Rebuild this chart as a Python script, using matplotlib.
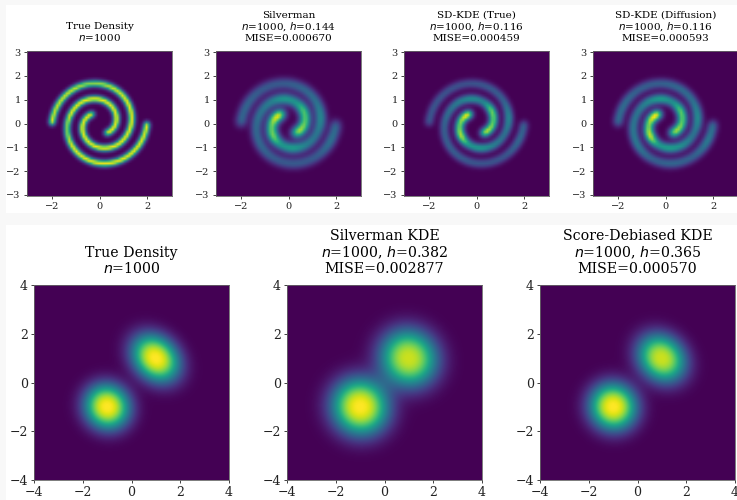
import numpy as np
import matplotlib
matplotlib.use("Agg")
import matplotlib.pyplot as plt
from matplotlib.patches import Rectangle

W, H = 737, 500
plt.rcParams['font.family'] = 'DejaVu Serif'
plt.rcParams['mathtext.fontset'] = 'dejavusans'

# ridge of the two spiral arms, read from inner end to outer end
ARM_A_X = [-0.30, -0.58, -0.72, -0.64, -0.32, 0.18, 0.75, 1.19, 1.36, 1.14, 0.55, -0.30, -1.17, -1.81, -2.00]
ARM_A_Y = [0.40, 0.21, -0.13, -0.54, -0.89, -1.04, -0.90, -0.43, 0.24, 0.96, 1.50, 1.68, 1.39, 0.66, 0.00]
ARM_B_X = [0.30, 0.58, 0.72, 0.64, 0.32, -0.18, -0.75, -1.19, -1.36, -1.14, -0.55, 0.30, 1.17, 1.81, 2.00]
ARM_B_Y = [-0.40, -0.21, 0.13, 0.54, 0.89, 1.04, 0.90, 0.43, -0.24, -0.96, -1.50, -1.68, -1.39, -0.66, 0.00]

# ridge brightness per panel, per control point
TRUE_A = [.92, .97, .97, .97, .97, .97, .97, .97, .97, .97, .92, .80, .92, .92, .92]
TRUE_B = [.92, .97, .97, .97, .97, .97, .97, .97, .78, .97, .97, .97, .97, .97, .92]
SILV_A = [.90, .95, .68, .85, .48, .58, .42, .38, .48, .36, .32, .28, .28, .33, .30]
SILV_B = [.80, .85, .68, .75, .48, .55, .42, .38, .33, .33, .28, .28, .28, .38, .30]
SDT_A = [1.0, .88, .72, .95, .50, .55, .42, .36, .48, .30, .28, .25, .25, .27, .25]
SDT_B = [.85, .85, .70, .82, .42, .50, .42, .36, .30, .30, .28, .26, .26, .34, .28]
SDD_A = [1.0, .95, .72, 1.0, .50, .58, .48, .36, .50, .36, .34, .30, .30, .36, .32]
SDD_B = [.80, .85, .70, .78, .45, .58, .46, .38, .40, .40, .30, .33, .30, .42, .32]

# spiral panels: title, ridge sigma
TOP_TITLES = ["True Density\n$n$=1000",
              "Silverman\n$n$=1000, $h$=0.144\nMISE=0.000670",
              "SD-KDE (True)\n$n$=1000, $h$=0.116\nMISE=0.000459",
              "SD-KDE (Diffusion)\n$n$=1000, $h$=0.116\nMISE=0.000593"]
TOP_SIGMA = [0.10, 0.17, 0.135, 0.15]
TOP_LEFT = [27, 216, 404, 593]
TOP_AMPS = [(TRUE_A, TRUE_B), (SILV_A, SILV_B), (SDT_A, SDT_B), (SDD_A, SDD_B)]

# two-blob panels: centre, scale along/against the tilt, peak
BOT_TITLES = ["True Density\n$n$=1000",
              "Silverman KDE\n$n$=1000, $h$=0.382\nMISE=0.002877",
              "Score-Debiased KDE\n$n$=1000, $h$=0.365\nMISE=0.000570"]
BOT_LEFT = [34, 287, 540]
CENTRES_X = [-1.0, 1.0]
CENTRES_Y = [-1.0, 1.0]
BLOB_SCALE_LONG = [[0.95, 1.08], [1.18, 1.20], [0.98, 1.06]]
BLOB_SCALE_SHORT = [[0.90, 0.86], [1.14, 1.14], [0.95, 0.90]]
BLOB_PEAK = [[1.0, 1.0], [1.0, 0.92], [1.0, 0.92]]


def spiral(amps, sigma, n=60, lim=3):
    t = np.linspace(-lim, lim, n)
    gx, gy = np.meshgrid(t, t)
    z = np.zeros_like(gx)
    for px, py, am in zip((ARM_A_X, ARM_B_X), (ARM_A_Y, ARM_B_Y), amps):
        px, py = np.array(px), np.array(py)
        ang = np.unwrap(np.arctan2(py, px))
        rad = np.hypot(px, py)
        fine = np.linspace(ang[0], ang[-1], 600)
        fr = np.interp(fine, ang, rad)
        fa = np.interp(fine, ang, am)
        fx, fy = fr * np.cos(fine), fr * np.sin(fine)
        ds = np.r_[np.hypot(np.diff(fx), np.diff(fy)), 0.0]
        ds[0] += 0.7 * sigma
        ds[-2] += 0.7 * sigma
        for x, y, a, d in zip(fx, fy, fa, ds):
            z += a * np.exp(-((gx - x) ** 2 + (gy - y) ** 2) / (2 * sigma ** 2)) * d / (sigma * np.sqrt(2 * np.pi))
    return z


def blobs(i, n=200, lim=4):
    t = np.linspace(-lim, lim, n)
    gx, gy = np.meshgrid(t, t)
    z = np.zeros_like(gx)
    for k in range(2):
        u = ((gx - CENTRES_X[k]) - (gy - CENTRES_Y[k])) / np.sqrt(2)
        v = ((gx - CENTRES_X[k]) + (gy - CENTRES_Y[k])) / np.sqrt(2)
        rho = np.sqrt((u / BLOB_SCALE_LONG[i][k]) ** 2 + (v / BLOB_SCALE_SHORT[i][k]) ** 2)
        z += BLOB_PEAK[i][k] * np.exp(-rho ** 2.5)
    return z


def add_axes(fig, left, top, w, h):
    return fig.add_axes([left / W, 1 - (top + h) / H, w / W, h / H])


def style(ax, title, tick, tsize, pad):
    ax.set_title(title, fontsize=tsize, pad=pad, linespacing=1.12)
    ax.tick_params(labelsize=tick, length=2.5, width=0.6, pad=2, colors='#222222')
    ax.set_aspect('equal')
    for s in ax.spines.values():
        s.set_linewidth(0.6)
        s.set_color('#666666')


fig = plt.figure(figsize=(W / 100, H / 100), dpi=100, facecolor='#f8f8f8')
fig.add_artist(Rectangle((6 / W, 1 - 213 / H), 1, 208 / H, transform=fig.transFigure, fc='white', ec='none', zorder=-5))
fig.add_artist(Rectangle((6 / W, 0), 1, 275 / H, transform=fig.transFigure, fc='white', ec='none', zorder=-5))

for left, title, amps, sig in zip(TOP_LEFT, TOP_TITLES, TOP_AMPS, TOP_SIGMA):
    ax = add_axes(fig, left, 51, 145, 145)
    z = spiral(amps, sig)
    ax.imshow(z, origin='lower', extent=[-3.05, 3.05, -3.05, 3.05], cmap='viridis', vmin=0, vmax=1,
              interpolation='bilinear')
    ax.set_xlim(-3.05, 3.05)
    ax.set_ylim(-3.05, 3.05)
    ax.set_xticks([-2, 0, 2])
    ax.set_yticks([-3, -2, -1, 0, 1, 2, 3])
    style(ax, title, 7, 7.5, 7)

for i, (left, title) in enumerate(zip(BOT_LEFT, BOT_TITLES)):
    ax = add_axes(fig, left, 285, 195, 195)
    ax.imshow(blobs(i), origin='lower', extent=[-4, 4, -4, 4], cmap='viridis', vmin=0, vmax=1,
              interpolation='bilinear')
    ax.set_xticks([-4, -2, 0, 2, 4])
    ax.set_yticks([-4, -2, 0, 2, 4])
    style(ax, title, 9, 10.2, 8.5)

fig.savefig('out.png', dpi=100, facecolor=fig.get_facecolor())
